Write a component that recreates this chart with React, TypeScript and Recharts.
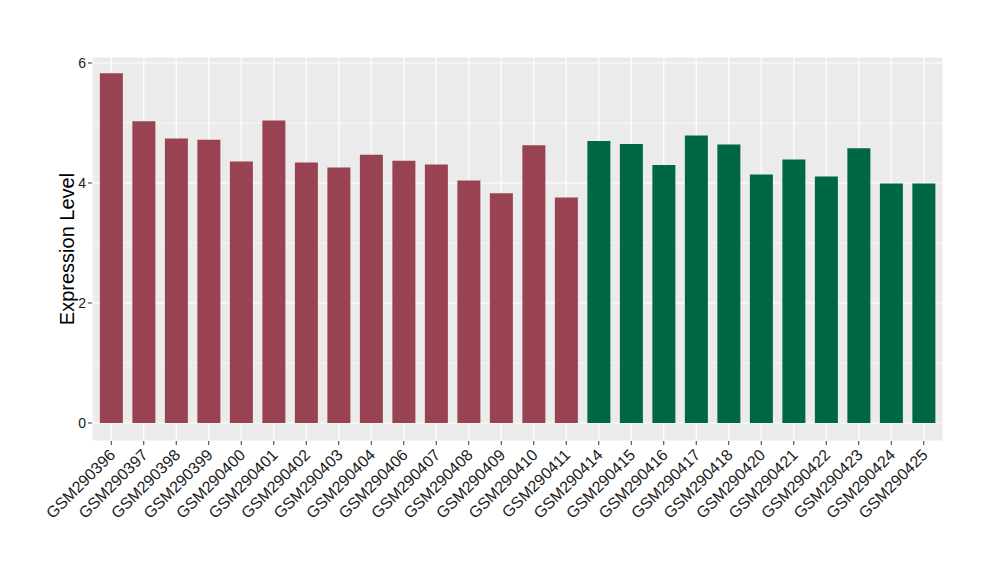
import { Bar, BarChart, CartesianGrid, Cell, XAxis, YAxis } from "recharts";

const samples = [
  "GSM290396", "GSM290397", "GSM290398", "GSM290399", "GSM290400", "GSM290401",
  "GSM290402", "GSM290403", "GSM290404", "GSM290406", "GSM290407", "GSM290408",
  "GSM290409", "GSM290410", "GSM290411", "GSM290414", "GSM290415", "GSM290416",
  "GSM290417", "GSM290418", "GSM290420", "GSM290421", "GSM290422", "GSM290423",
  "GSM290424", "GSM290425"
];

const levels = [
  5.83, 5.03, 4.74, 4.72, 4.36, 5.04, 4.34, 4.26, 4.47, 4.37, 4.31, 4.04, 3.83,
  4.63, 3.76, 4.7, 4.65, 4.3, 4.79, 4.64, 4.14, 4.39, 4.11, 4.58, 3.99, 3.99
];

const groups = [
  "a", "a", "a", "a", "a", "a", "a", "a", "a", "a", "a", "a", "a", "a", "a",
  "b", "b", "b", "b", "b", "b", "b", "b", "b", "b", "b"
];

const yTicks = [0, 2, 4, 6];
const minorTicks = [1, 3, 5];

const groupColors: Record<string, string> = { a: "#994352", b: "#006743" };

const data = samples.map((name, i) => ({ name, value: levels[i], group: groups[i] }));

const font = "'Liberation Sans', Arial, sans-serif";

function SampleTick({ x, y, payload }: any) {
  const ax = x + 5;
  const ay = y + 9;
  return (
    <text
      x={ax}
      y={ay}
      transform={`rotate(-45, ${ax}, ${ay})`}
      textAnchor="end"
      fontSize={16}
      fontFamily={font}
      fill="#1a1a1a"
    >
      {payload.value}
    </text>
  );
}

export default function App() {
  return (
    <div style={{ position: "absolute", left: 0, top: 0, width: 1000, height: 580, background: "#fff" }}>
      <BarChart
        width={1000}
        height={580}
        data={data}
        margin={{ top: 57, right: 57, bottom: 0, left: 0 }}
        barCategoryGap="15%"
      >
        <CartesianGrid fill="#EBEBEB" stroke="#FFFFFF" strokeWidth={1.2} />
        {/* minor lines between the major ticks */}
        <CartesianGrid vertical={false} stroke="#FFFFFF" strokeWidth={0.6} horizontalValues={minorTicks} />
        <XAxis
          dataKey="name"
          interval={0}
          height={139}
          padding={{ left: 3, right: 3 }}
          axisLine={false}
          tickLine={{ stroke: "#333333" }}
          tickSize={4}
          tick={<SampleTick />}
        />
        <YAxis
          width={92}
          domain={[-0.3, 6.1]}
          ticks={yTicks}
          allowDataOverflow
          axisLine={false}
          tickLine={{ stroke: "#333333" }}
          tickSize={4}
          tick={{ fontSize: 14, fontFamily: font, fill: "#1a1a1a" }}
          label={{
            value: "Expression Level",
            angle: -90,
            position: "insideLeft",
            dx: 62,
            dy: 0,
            style: { fontSize: 20, fontFamily: font, fill: "#000", textAnchor: "middle" }
          }}
        />
        <Bar dataKey="value" isAnimationActive={false}>
          {data.map((d) => (
            <Cell key={d.name} fill={groupColors[d.group]} />
          ))}
        </Bar>
      </BarChart>
    </div>
  );
}
